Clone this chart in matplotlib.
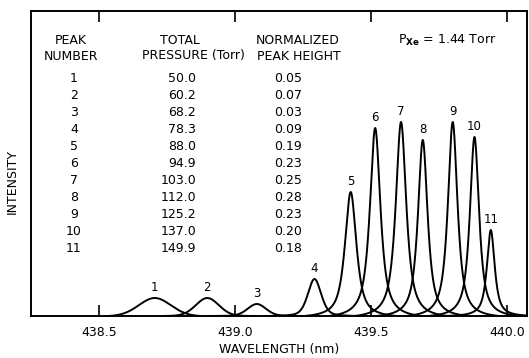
import numpy as np
import matplotlib as mpl
mpl.use('Agg')
import matplotlib.pyplot as plt

plt.rcParams['font.family'] = 'DejaVu Sans'

# peak table
peak_numbers = ['1', '2', '3', '4', '5', '6', '7', '8', '9', '10', '11']
pressures = ['50.0', '60.2', '68.2', '78.3', '88.0', '94.9', '103.0', '112.0', '125.2', '137.0', '149.9']
norm_heights = ['0.05', '0.07', '0.03', '0.09', '0.19', '0.23', '0.25', '0.28', '0.23', '0.20', '0.18']

# traces (arbitrary intensity units)
centers = [438.705, 438.898, 439.08, 439.292, 439.425, 439.515, 439.61, 439.69, 439.80, 439.88, 439.94]
heights = [18, 18, 12, 37, 124, 188, 194, 176, 194, 179, 86]
fwhm = [0.14, 0.10, 0.08, 0.058, 0.05, 0.046, 0.046, 0.042, 0.042, 0.04, 0.034]
lorentz_mix = [0.1, 0.1, 0.2, 0.4, 0.8, 0.85, 0.85, 0.85, 0.85, 0.85, 0.85]

W, H = 529, 358
fig = plt.figure(figsize=(W / 100, H / 100), dpi=100)
ax = fig.add_axes([31 / W, (H - 316) / H, (527 - 31) / W, (316 - 11) / H])

for c, h, w, eta in zip(centers, heights, fwhm, lorentz_mix):
    x = np.linspace(c - 0.17, c + 0.17, 600)
    g = np.exp(-4 * np.log(2) * ((x - c) / w) ** 2)
    l = 1 / (1 + 4 * ((x - c) / w) ** 2)
    p = eta * l + (1 - eta) * g
    p = (p - p[0]) / (1 - p[0])
    y = np.clip(h * p, 0, None)
    ax.plot(x, y, color='black', lw=1.4, solid_joinstyle='round')

for num, c, h in zip(peak_numbers, centers, heights):
    ax.annotate(num, (c, h), xytext=(0, 3), textcoords='offset points',
                ha='center', va='bottom', fontsize=8.5)

ax.set_xlim(438.25, 440.073)
ax.set_ylim(0, 305)
ax.set_xticks([438.5, 439.0, 439.5, 440.0])
ax.set_xticklabels(['438.5', '439.0', '439.5', '440.0'], fontsize=9)
ax.set_yticks([])
ax.tick_params(axis='x', direction='in', length=8, width=1.2, top=True, pad=7)
for s in ax.spines.values():
    s.set_linewidth(1.4)

ax.set_xlabel('WAVELENGTH (nm)', fontsize=9, labelpad=3)
fig.text(12 / W, 1 - 182 / H, 'INTENSITY', rotation=90, ha='center', va='center', fontsize=9)

# table inside the plot, placed in figure pixels
def px(x, y):
    return x / W, 1 - y / H

fs = 9
fig.text(*px(71, 40), 'PEAK', ha='center', va='center', fontsize=fs)
fig.text(*px(71, 56), 'NUMBER', ha='center', va='center', fontsize=fs)
fig.text(*px(180, 40), 'TOTAL', ha='center', va='center', fontsize=fs)
fig.text(*px(193, 56), 'PRESSURE (Torr)', ha='center', va='center', fontsize=fs)
fig.text(*px(298, 40), 'NORMALIZED', ha='center', va='center', fontsize=fs)
fig.text(*px(299, 56), 'PEAK HEIGHT', ha='center', va='center', fontsize=fs)
fig.text(*px(398, 40), r'P$_{\mathbf{Xe}}$ = 1.44 Torr', ha='left', va='center', fontsize=fs)

for i in range(len(peak_numbers)):
    yy = 79 + i * 16.9
    fig.text(*px(74, yy), peak_numbers[i], ha='center', va='center', fontsize=fs)
    fig.text(*px(196, yy), pressures[i], ha='right', va='center', fontsize=fs)
    fig.text(*px(274, yy), norm_heights[i], ha='left', va='center', fontsize=fs)

fig.savefig('out.png', dpi=100)
